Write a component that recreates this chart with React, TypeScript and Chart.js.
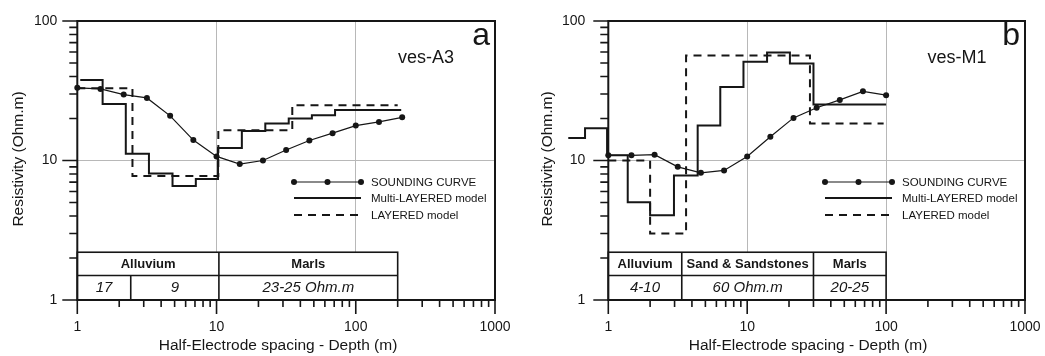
import React, { useEffect, useRef } from 'react';
import { Chart, registerables } from 'chart.js';

Chart.register(...registerables);

const FONT = '"Liberation Sans", Arial, Helvetica, sans-serif';
const INK = '#161616';
const GRID = '#b8b8b8';

// ---------- Panel a : ves-A3 ----------
const aSoundingX = [1, 1.468, 2.154, 3.162, 4.642, 6.813, 10, 14.68, 21.54, 31.62, 46.42, 68.13, 100, 146.8, 215.4];
const aSoundingY = [33.2, 32.6, 29.7, 28.1, 20.9, 14.0, 10.7, 9.43, 10.0, 11.9, 13.9, 15.7, 17.8, 18.9, 20.4];
const aMultiX = [1.05, 1.52, 2.23, 3.27, 4.83, 7.1, 10.25, 15.2, 22.4, 33, 48.4, 71, 212];
const aMultiY = [37.7, 25.4, 11.2, 8.08, 6.56, 7.36, 12.3, 16.3, 18.4, 20.0, 21.1, 23.0, 23.0];
const aLayeredX = [1, 2.49, 10.3, 35, 200];
const aLayeredY = [33, 7.73, 16.5, 24.9, 24.9];
const aHeadEdges = [1, 10.4, 200];
const aHeadLabels = ['Alluvium', 'Marls'];
const aValEdges = [1, 2.42, 10.4, 200];
const aValLabels = ['17', '9', '23-25 Ohm.m'];

// ---------- Panel b : ves-M1 ----------
const bSoundingX = [1, 1.468, 2.154, 3.162, 4.642, 6.813, 10, 14.68, 21.54, 31.62, 46.42, 68.13, 100];
const bSoundingY = [10.9, 10.9, 11.0, 9.01, 8.16, 8.49, 10.7, 14.8, 20.2, 23.9, 27.2, 31.3, 29.4];
const bMultiX = [0.515, 0.68, 0.98, 1.38, 2.0, 2.97, 4.4, 6.4, 9.4, 13.9, 20.3, 30, 100];
const bMultiY = [14.5, 17.0, 10.9, 5.01, 4.05, 7.8, 17.8, 33.7, 51, 59.5, 49.6, 25.2, 25.2];
const bLayeredX = [1, 2.0, 3.63, 28.3, 96];
const bLayeredY = [10, 3.0, 56.5, 18.4, 18.4];
const bHeadEdges = [1, 3.38, 30, 100];
const bHeadLabels = ['Alluvium', 'Sand & Sandstones', 'Marls'];
const bValEdges = [1, 3.38, 30, 100];
const bValLabels = ['4-10', '60 Ohm.m', '20-25'];

// table rows (resistivity values of the row boundaries: bottom, middle, top)
const tableRows = [1, 1.5, 2.2];

// axis ranges
const xRange = [1, 1000];
const yRange = [1, 100];

const legendLabels = ['SOUNDING CURVE', 'Multi-LAYERED model', 'LAYERED model'];

type Spec = {
  sx: number[]; sy: number[]; mx: number[]; my: number[]; lx: number[]; ly: number[];
  headEdges: number[]; headLabels: string[]; valEdges: number[]; valLabels: string[];
  letter: string; name: string;
  yAxisWidth: number; padRight: number; yLabelPad: number;
  legendX: number; xTitleX: number; yTitleX: number; nameX: number;
};

const panelA: Spec = {
  sx: aSoundingX, sy: aSoundingY, mx: aMultiX, my: aMultiY, lx: aLayeredX, ly: aLayeredY,
  headEdges: aHeadEdges, headLabels: aHeadLabels, valEdges: aValEdges, valLabels: aValLabels,
  letter: 'a', name: 'ves-A3',
  yAxisWidth: 77.3, padRight: 27, yLabelPad: 20,
  legendX: 294, xTitleX: 278, yTitleX: 19, nameX: 426,
};

const panelB: Spec = {
  sx: bSoundingX, sy: bSoundingY, mx: bMultiX, my: bMultiY, lx: bLayeredX, ly: bLayeredY,
  headEdges: bHeadEdges, headLabels: bHeadLabels, valEdges: bValEdges, valLabels: bValLabels,
  letter: 'b', name: 'ves-M1',
  yAxisWidth: 86.3, padRight: 20, yLabelPad: 23,
  legendX: 303, xTitleX: 286, yTitleX: 26, nameX: 435,
};

const isDecade = (v: number) => {
  const l = Math.log10(v);
  return Math.abs(l - Math.round(l)) < 1e-6;
};
const isIntSignificand = (v: number) => {
  const s = v / Math.pow(10, Math.floor(Math.log10(v) + 1e-9));
  return Math.abs(s - Math.round(s)) < 1e-6;
};

function buildConfig(p: Spec): any {
  const pts = (xs: number[], ys: number[]) => xs.map((x, i) => ({ x, y: ys[i] }));

  const deco = {
    id: 'deco',
    beforeDatasetsDraw(chart: any) {
      const { ctx, scales } = chart;
      const x = scales.x, y = scales.y;
      const yb = y.getPixelForValue(tableRows[0]);
      const ym = y.getPixelForValue(tableRows[1]);
      const yt = y.getPixelForValue(tableRows[2]);
      const x0 = x.getPixelForValue(p.headEdges[0]);
      const x1 = x.getPixelForValue(p.headEdges[p.headEdges.length - 1]);
      ctx.save();
      ctx.fillStyle = '#fff';
      ctx.fillRect(x0, yt, x1 - x0, yb - yt);
      ctx.strokeStyle = INK;
      ctx.lineWidth = 1.6;
      ctx.strokeRect(x0, yt, x1 - x0, yb - yt);
      ctx.beginPath();
      ctx.moveTo(x0, ym); ctx.lineTo(x1, ym);
      p.headEdges.slice(1, -1).forEach((e) => {
        const px = x.getPixelForValue(e);
        ctx.moveTo(px, yt); ctx.lineTo(px, ym);
      });
      p.valEdges.slice(1, -1).forEach((e) => {
        const px = x.getPixelForValue(e);
        ctx.moveTo(px, ym); ctx.lineTo(px, yb);
      });
      ctx.stroke();
      ctx.fillStyle = INK;
      ctx.textAlign = 'center';
      ctx.textBaseline = 'middle';
      ctx.font = `bold 13px ${FONT}`;
      p.headLabels.forEach((t, i) => {
        const a = x.getPixelForValue(p.headEdges[i]);
        const b = x.getPixelForValue(p.headEdges[i + 1]);
        ctx.fillText(t, (a + b) / 2, (yt + ym) / 2 + 0.5);
      });
      ctx.font = `italic 15px ${FONT}`;
      p.valLabels.forEach((t, i) => {
        const a = x.getPixelForValue(p.valEdges[i]);
        const b = x.getPixelForValue(p.valEdges[i + 1]);
        ctx.fillText(t, (a + b) / 2, (ym + yb) / 2 + 0.5);
      });
      ctx.restore();
    },
    afterDatasetsDraw(chart: any) {
      const { ctx, chartArea: area, scales } = chart;
      const x = scales.x, y = scales.y;
      ctx.save();
      // frame
      ctx.strokeStyle = INK;
      ctx.lineWidth = 2;
      ctx.strokeRect(area.left, area.top, area.right - area.left, area.bottom - area.top);
      // tick marks
      ctx.lineWidth = 1.6;
      ctx.beginPath();
      x.ticks.forEach((t: any) => {
        if (!isIntSignificand(t.value)) return;
        const px = x.getPixelForValue(t.value);
        const len = isDecade(t.value) ? 14 : 7;
        ctx.moveTo(px, area.bottom); ctx.lineTo(px, area.bottom + len);
      });
      y.ticks.forEach((t: any) => {
        if (!isIntSignificand(t.value)) return;
        const py = y.getPixelForValue(t.value);
        const len = isDecade(t.value) ? 15 : 8;
        ctx.moveTo(area.left, py); ctx.lineTo(area.left - len, py);
      });
      ctx.stroke();

      // legend
      const lx0 = p.legendX, lx1 = p.legendX + 67;
      const rows = [182, 198, 215];
      ctx.lineWidth = 1.2;
      ctx.beginPath(); ctx.moveTo(lx0, rows[0]); ctx.lineTo(lx1, rows[0]); ctx.stroke();
      ctx.fillStyle = INK;
      [lx0, (lx0 + lx1) / 2, lx1].forEach((cx) => {
        ctx.beginPath(); ctx.arc(cx, rows[0], 3, 0, Math.PI * 2); ctx.fill();
      });
      ctx.lineWidth = 2;
      ctx.beginPath(); ctx.moveTo(lx0, rows[1]); ctx.lineTo(lx1, rows[1]); ctx.stroke();
      ctx.setLineDash([8, 6]);
      ctx.beginPath(); ctx.moveTo(lx0, rows[2]); ctx.lineTo(lx1, rows[2]); ctx.stroke();
      ctx.setLineDash([]);
      ctx.font = `11.5px ${FONT}`;
      ctx.textAlign = 'left';
      ctx.textBaseline = 'middle';
      legendLabels.forEach((t, i) => ctx.fillText(t, lx0 + 77, rows[i] + 0.5));

      // panel letter and sounding name
      ctx.textBaseline = 'alphabetic';
      ctx.textAlign = 'right';
      ctx.font = `32px ${FONT}`;
      ctx.fillText(p.letter, area.right - 5, 45);
      ctx.textAlign = 'center';
      ctx.font = `18px ${FONT}`;
      ctx.fillText(p.name, p.nameX, 63);

      // axis titles
      ctx.font = `15.5px ${FONT}`;
      ctx.fillText('Half-Electrode spacing - Depth (m)', p.xTitleX, 350);
      ctx.translate(p.yTitleX, 159);
      ctx.rotate(-Math.PI / 2);
      ctx.textBaseline = 'middle';
      ctx.fillText('Resistivity (Ohm.m)', 0, 0);
      ctx.restore();
    },
  };

  const gridColor = (c: any) => {
    const v = c.tick && c.tick.value;
    if (v == null) return 'rgba(0,0,0,0)';
    if (!isDecade(v)) return 'rgba(0,0,0,0)';
    if (Math.abs(v - c.scale.min) < 1e-9 || Math.abs(v - c.scale.max) < 1e-9) return 'rgba(0,0,0,0)';
    return GRID;
  };
  const tickLabel = (v: any) => (isDecade(Number(v)) ? String(Math.round(Number(v))) : '');

  return {
    type: 'line',
    data: {
      datasets: [
        {
          label: 'SOUNDING CURVE',
          data: pts(p.sx, p.sy),
          borderColor: INK,
          backgroundColor: INK,
          borderWidth: 1.2,
          pointRadius: 3,
          pointBackgroundColor: INK,
          pointBorderWidth: 0,
          tension: 0,
        },
        {
          label: 'Multi-LAYERED model',
          data: pts(p.mx, p.my),
          borderColor: INK,
          borderWidth: 2,
          pointRadius: 0,
          stepped: true,
          clip: false,
        },
        {
          label: 'LAYERED model',
          data: pts(p.lx, p.ly),
          borderColor: INK,
          borderWidth: 2,
          borderDash: [8, 6],
          pointRadius: 0,
          stepped: true,
          clip: false,
        },
      ],
    },
    options: {
      animation: false,
      responsive: false,
      maintainAspectRatio: false,
      layout: { padding: { left: 0, right: p.padRight, top: 21, bottom: 0 } },
      plugins: { legend: { display: false }, tooltip: { enabled: false }, title: { display: false } },
      scales: {
        x: {
          type: 'logarithmic',
          position: 'bottom',
          afterDataLimits: (s: any) => { s.min = xRange[0]; s.max = xRange[1]; },
          afterFit: (s: any) => {
            s.height = 56;
            s.paddingLeft = 0; s.paddingRight = 0; s.paddingTop = 0; s.paddingBottom = 0;
          },
          grid: { color: gridColor, lineWidth: 1, drawTicks: false },
          border: { display: false },
          ticks: {
            autoSkip: false, maxRotation: 0, minRotation: 0, padding: 19,
            color: INK, font: { family: FONT, size: 14 }, callback: tickLabel,
          },
        },
        y: {
          type: 'logarithmic',
          position: 'left',
          min: yRange[0],
          max: yRange[1],
          afterFit: (s: any) => {
            s.width = p.yAxisWidth;
            s.paddingLeft = 0; s.paddingRight = 0; s.paddingTop = 0; s.paddingBottom = 0;
          },
          grid: { color: gridColor, lineWidth: 1, drawTicks: false },
          border: { display: false },
          ticks: {
            autoSkip: false, padding: p.yLabelPad,
            color: INK, font: { family: FONT, size: 14 }, callback: tickLabel,
          },
        },
      },
    },
    plugins: [deco],
  };
}

function Panel({ spec, left, width }: { spec: Spec; left: number; width: number }) {
  const ref = useRef<HTMLCanvasElement>(null);
  useEffect(() => {
    if (!ref.current) return;
    const chart = new Chart(ref.current, buildConfig(spec));
    return () => chart.destroy();
  }, [spec]);
  return (
    <canvas
      ref={ref}
      width={width}
      height={356}
      style={{ position: 'absolute', left, top: 0, width, height: 356, display: 'block' }}
    />
  );
}

export default function App() {
  return (
    <div style={{ position: 'fixed', left: 0, top: 0, width: 1045, height: 356, background: '#fff', overflow: 'hidden' }}>
      <Panel spec={panelA} left={0} width={522} />
      <Panel spec={panelB} left={522} width={523} />
    </div>
  );
}
